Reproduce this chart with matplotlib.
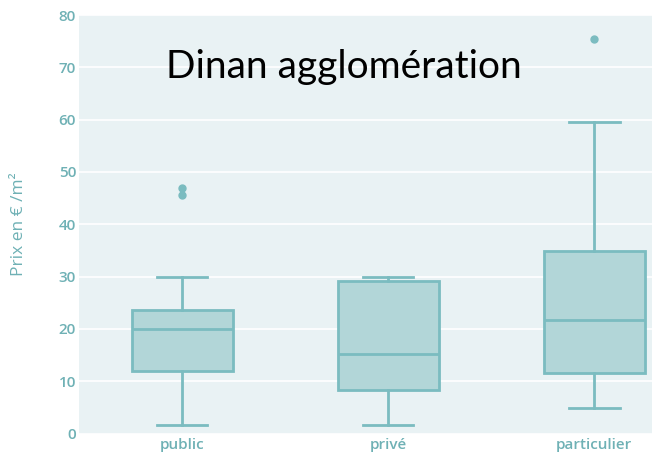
import matplotlib
matplotlib.use("Agg")
import matplotlib.pyplot as plt

# Box statistics
categories = ["public", "privé", "particulier"]
whisker_low = [1.7, 1.7, 4.9]
q1 = [12.0, 8.3, 11.5]
median = [20.0, 15.2, 21.7]
q3 = [23.6, 29.2, 34.8]
whisker_high = [30.0, 30.0, 59.6]
outliers = [[47.0, 45.5], [], [75.4]]

y_ticks = [0, 10, 20, 30, 40, 50, 60, 70, 80]

teal = "#7bbcc0"
fill = "#b2d6d8"
label_col = "#6fb1b5"
bg = "#e9f2f4"

fig = plt.figure(figsize=(6.52, 4.55), dpi=100)
ax = fig.add_axes([79 / 652, 21.5 / 455, 1 - 79 / 652, 418.5 / 455])
ax.set_facecolor(bg)

stats = []
for i, name in enumerate(categories):
    stats.append({
        "label": name,
        "whislo": whisker_low[i],
        "q1": q1[i],
        "med": median[i],
        "q3": q3[i],
        "whishi": whisker_high[i],
        "fliers": outliers[i],
    })

ax.bxp(stats, positions=range(len(categories)), widths=0.49, patch_artist=True,
       boxprops=dict(facecolor=fill, edgecolor=teal, linewidth=2),
       medianprops=dict(color=teal, linewidth=2),
       whiskerprops=dict(color=teal, linewidth=2),
       capprops=dict(color=teal, linewidth=2),
       capwidths=0.245,
       flierprops=dict(marker="o", markerfacecolor=teal, markeredgecolor=teal,
                       markersize=5))

ax.set_xlim(-0.5, 2.28)
ax.set_ylim(0, 80)
ax.set_yticks(y_ticks)
ax.set_xticks(range(len(categories)))
ax.set_xticklabels(categories)
ax.grid(axis="y", color="white", linewidth=1.2)
ax.set_axisbelow(True)
for s in ax.spines.values():
    s.set_visible(False)
ax.tick_params(axis="y", length=0, colors=label_col, labelsize=11, pad=2)
ax.tick_params(axis="x", length=0, colors=label_col, labelsize=11, pad=3)
for t in ax.get_xticklabels() + ax.get_yticklabels():
    t.set_fontfamily("Open Sans")
    t.set_fontweight("semibold")

fig.text(19 / 652, 1 - 224 / 455, "Prix en € /m²", rotation=90, ha="center",
         va="center", color=label_col, fontsize=12.5, fontfamily="Open Sans")

fig.text(344 / 652, 1 - 67 / 455, "Dinan agglomération", ha="center",
         va="center", color="black", fontsize=28, fontfamily="Lato")

fig.savefig("out.png", dpi=100)
